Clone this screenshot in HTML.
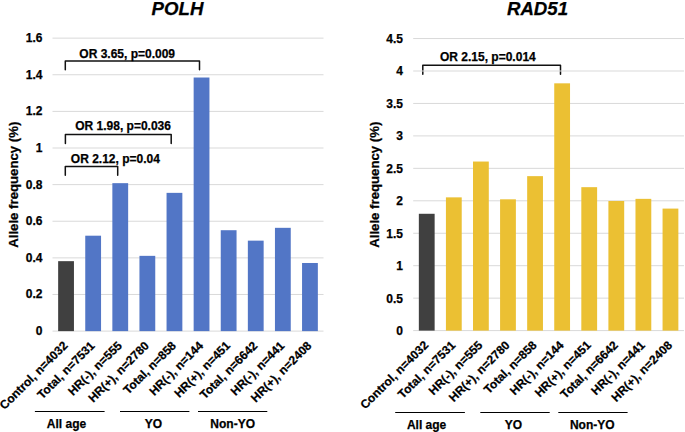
<!DOCTYPE html>
<html><head><meta charset="utf-8"><style>
html,body{margin:0;padding:0;background:#fff;}
svg{display:block;}
text{font-family:"Liberation Sans",sans-serif;font-weight:bold;fill:#000;stroke:#000;stroke-width:0.25px;}
.yl{font-size:12px;}
.xl{font-size:12px;}
.ti{font-size:18.67px;font-style:italic;}
.yt{font-size:13.2px;}
.gl{font-size:12px;}
.an{font-size:12px;}
</style></head><body>
<svg width="685" height="432" viewBox="0 0 685 432">
<rect width="685" height="432" fill="#fff"/>
<path d="M65.30,69.80 V61.10 H199.50 V69.80" fill="none" stroke="#111" stroke-width="1.5" stroke-linejoin="round" stroke-linecap="round"/>
<path d="M65.40,143.40 V134.60 H171.20 V143.40" fill="none" stroke="#111" stroke-width="1.5" stroke-linejoin="round" stroke-linecap="round"/>
<path d="M65.30,175.30 V166.40 H117.70 V175.30" fill="none" stroke="#111" stroke-width="1.5" stroke-linejoin="round" stroke-linecap="round"/>
<path d="M422.80,74.20 V65.30 H560.50 V74.20" fill="none" stroke="#111" stroke-width="1.5" stroke-linejoin="round" stroke-linecap="round"/>
<line x1="52.50" y1="331.10" x2="323.50" y2="331.10" stroke="#D9D9D9" stroke-width="1"/>
<text x="42.40" y="335.00" text-anchor="end" class="yl">0</text>
<line x1="52.50" y1="294.48" x2="323.50" y2="294.48" stroke="#D9D9D9" stroke-width="1"/>
<text x="42.40" y="298.38" text-anchor="end" class="yl">0.2</text>
<line x1="52.50" y1="257.86" x2="323.50" y2="257.86" stroke="#D9D9D9" stroke-width="1"/>
<text x="42.40" y="261.76" text-anchor="end" class="yl">0.4</text>
<line x1="52.50" y1="221.24" x2="323.50" y2="221.24" stroke="#D9D9D9" stroke-width="1"/>
<text x="42.40" y="225.14" text-anchor="end" class="yl">0.6</text>
<line x1="52.50" y1="184.62" x2="323.50" y2="184.62" stroke="#D9D9D9" stroke-width="1"/>
<text x="42.40" y="188.52" text-anchor="end" class="yl">0.8</text>
<line x1="52.50" y1="148.00" x2="323.50" y2="148.00" stroke="#D9D9D9" stroke-width="1"/>
<text x="42.40" y="151.90" text-anchor="end" class="yl">1</text>
<line x1="52.50" y1="111.38" x2="323.50" y2="111.38" stroke="#D9D9D9" stroke-width="1"/>
<text x="42.40" y="115.28" text-anchor="end" class="yl">1.2</text>
<line x1="52.50" y1="74.76" x2="323.50" y2="74.76" stroke="#D9D9D9" stroke-width="1"/>
<text x="42.40" y="78.66" text-anchor="end" class="yl">1.4</text>
<line x1="52.50" y1="38.14" x2="323.50" y2="38.14" stroke="#D9D9D9" stroke-width="1"/>
<text x="42.40" y="42.04" text-anchor="end" class="yl">1.6</text>
<rect x="58.15" y="261.16" width="15.8" height="69.94" fill="#404040"/>
<text transform="translate(68.45,346.40) rotate(-45)" text-anchor="end" class="xl">Control, n=4032</text>
<rect x="85.25" y="235.70" width="15.8" height="95.40" fill="#5276C6"/>
<text transform="translate(95.55,346.40) rotate(-45)" text-anchor="end" class="xl">Total, n=7531</text>
<rect x="112.35" y="183.16" width="15.8" height="147.94" fill="#5276C6"/>
<text transform="translate(122.65,346.40) rotate(-45)" text-anchor="end" class="xl">HR(-), n=555</text>
<rect x="139.45" y="255.85" width="15.8" height="75.25" fill="#5276C6"/>
<text transform="translate(149.75,346.40) rotate(-45)" text-anchor="end" class="xl">HR(+), n=2780</text>
<rect x="166.55" y="192.86" width="15.8" height="138.24" fill="#5276C6"/>
<text transform="translate(176.85,346.40) rotate(-45)" text-anchor="end" class="xl">Total, n=858</text>
<rect x="193.65" y="77.51" width="15.8" height="253.59" fill="#5276C6"/>
<text transform="translate(203.95,346.40) rotate(-45)" text-anchor="end" class="xl">HR(-), n=144</text>
<rect x="220.75" y="230.21" width="15.8" height="100.89" fill="#5276C6"/>
<text transform="translate(231.05,346.40) rotate(-45)" text-anchor="end" class="xl">HR(+), n=451</text>
<rect x="247.85" y="240.65" width="15.8" height="90.45" fill="#5276C6"/>
<text transform="translate(258.15,346.40) rotate(-45)" text-anchor="end" class="xl">Total, n=6642</text>
<rect x="274.95" y="227.83" width="15.8" height="103.27" fill="#5276C6"/>
<text transform="translate(285.25,346.40) rotate(-45)" text-anchor="end" class="xl">HR(-), n=441</text>
<rect x="302.05" y="262.99" width="15.8" height="68.11" fill="#5276C6"/>
<text transform="translate(312.35,346.40) rotate(-45)" text-anchor="end" class="xl">HR(+), n=2408</text>
<text x="177.50" y="15" text-anchor="middle" class="ti">POLH</text>
<text transform="translate(17.70,184.7) rotate(-90)" text-anchor="middle" class="yt">Allele frequency (%)</text>
<line x1="34.90" y1="411.50" x2="104.60" y2="411.50" stroke="#000" stroke-width="1.1"/>
<line x1="120.00" y1="411.50" x2="189.40" y2="411.50" stroke="#000" stroke-width="1.1"/>
<line x1="198.00" y1="411.50" x2="267.30" y2="411.50" stroke="#000" stroke-width="1.1"/>
<line x1="413.20" y1="330.60" x2="684.00" y2="330.60" stroke="#D9D9D9" stroke-width="1"/>
<text x="402.90" y="335.00" text-anchor="end" class="yl">0</text>
<line x1="413.20" y1="298.15" x2="684.00" y2="298.15" stroke="#D9D9D9" stroke-width="1"/>
<text x="402.90" y="302.55" text-anchor="end" class="yl">0.5</text>
<line x1="413.20" y1="265.70" x2="684.00" y2="265.70" stroke="#D9D9D9" stroke-width="1"/>
<text x="402.90" y="270.10" text-anchor="end" class="yl">1</text>
<line x1="413.20" y1="233.25" x2="684.00" y2="233.25" stroke="#D9D9D9" stroke-width="1"/>
<text x="402.90" y="237.65" text-anchor="end" class="yl">1.5</text>
<line x1="413.20" y1="200.80" x2="684.00" y2="200.80" stroke="#D9D9D9" stroke-width="1"/>
<text x="402.90" y="205.20" text-anchor="end" class="yl">2</text>
<line x1="413.20" y1="168.35" x2="684.00" y2="168.35" stroke="#D9D9D9" stroke-width="1"/>
<text x="402.90" y="172.75" text-anchor="end" class="yl">2.5</text>
<line x1="413.20" y1="135.90" x2="684.00" y2="135.90" stroke="#D9D9D9" stroke-width="1"/>
<text x="402.90" y="140.30" text-anchor="end" class="yl">3</text>
<line x1="413.20" y1="103.45" x2="684.00" y2="103.45" stroke="#D9D9D9" stroke-width="1"/>
<text x="402.90" y="107.85" text-anchor="end" class="yl">3.5</text>
<line x1="413.20" y1="71.00" x2="684.00" y2="71.00" stroke="#D9D9D9" stroke-width="1"/>
<text x="402.90" y="75.40" text-anchor="end" class="yl">4</text>
<line x1="413.20" y1="38.55" x2="684.00" y2="38.55" stroke="#D9D9D9" stroke-width="1"/>
<text x="402.90" y="42.95" text-anchor="end" class="yl">4.5</text>
<rect x="418.84" y="213.78" width="15.8" height="116.82" fill="#404040"/>
<text transform="translate(429.14,345.90) rotate(-45)" text-anchor="end" class="xl">Control, n=4032</text>
<rect x="445.92" y="197.36" width="15.8" height="133.24" fill="#EBC033"/>
<text transform="translate(456.22,345.90) rotate(-45)" text-anchor="end" class="xl">Total, n=7531</text>
<rect x="473.00" y="161.54" width="15.8" height="169.06" fill="#EBC033"/>
<text transform="translate(483.30,345.90) rotate(-45)" text-anchor="end" class="xl">HR(-), n=555</text>
<rect x="500.08" y="199.31" width="15.8" height="131.29" fill="#EBC033"/>
<text transform="translate(510.38,345.90) rotate(-45)" text-anchor="end" class="xl">HR(+), n=2780</text>
<rect x="527.16" y="176.14" width="15.8" height="154.46" fill="#EBC033"/>
<text transform="translate(537.46,345.90) rotate(-45)" text-anchor="end" class="xl">Total, n=858</text>
<rect x="554.24" y="83.33" width="15.8" height="247.27" fill="#EBC033"/>
<text transform="translate(564.54,345.90) rotate(-45)" text-anchor="end" class="xl">HR(-), n=144</text>
<rect x="581.32" y="187.17" width="15.8" height="143.43" fill="#EBC033"/>
<text transform="translate(591.62,345.90) rotate(-45)" text-anchor="end" class="xl">HR(+), n=451</text>
<rect x="608.40" y="200.99" width="15.8" height="129.61" fill="#EBC033"/>
<text transform="translate(618.70,345.90) rotate(-45)" text-anchor="end" class="xl">Total, n=6642</text>
<rect x="635.48" y="198.85" width="15.8" height="131.75" fill="#EBC033"/>
<text transform="translate(645.78,345.90) rotate(-45)" text-anchor="end" class="xl">HR(-), n=441</text>
<rect x="662.56" y="208.59" width="15.8" height="122.01" fill="#EBC033"/>
<text transform="translate(672.86,345.90) rotate(-45)" text-anchor="end" class="xl">HR(+), n=2408</text>
<text x="537.50" y="15" text-anchor="middle" class="ti">RAD51</text>
<text transform="translate(379.00,184.7) rotate(-90)" text-anchor="middle" class="yt">Allele frequency (%)</text>
<line x1="395.20" y1="412.50" x2="464.90" y2="412.50" stroke="#000" stroke-width="1.1"/>
<line x1="480.30" y1="412.50" x2="549.70" y2="412.50" stroke="#000" stroke-width="1.1"/>
<line x1="558.30" y1="412.50" x2="627.60" y2="412.50" stroke="#000" stroke-width="1.1"/>
<text x="66.50" y="427.7" text-anchor="middle" class="gl">All age</text>
<text x="153.40" y="427.7" text-anchor="middle" class="gl">YO</text>
<text x="232.70" y="427.7" text-anchor="middle" class="gl">Non-YO</text>
<text x="426.60" y="428.6" text-anchor="middle" class="gl">All age</text>
<text x="513.50" y="428.6" text-anchor="middle" class="gl">YO</text>
<text x="592.30" y="428.6" text-anchor="middle" class="gl">Non-YO</text>
<text x="79.3" y="58.2" class="an">OR 3.65, p=0.009</text>
<text x="75.2" y="130" class="an">OR 1.98, p=0.036</text>
<text x="70.8" y="162.9" class="an">OR 2.12, p=0.04</text>
<text x="440" y="61.2" class="an">OR 2.15, p=0.014</text>
</svg>
</body></html>
